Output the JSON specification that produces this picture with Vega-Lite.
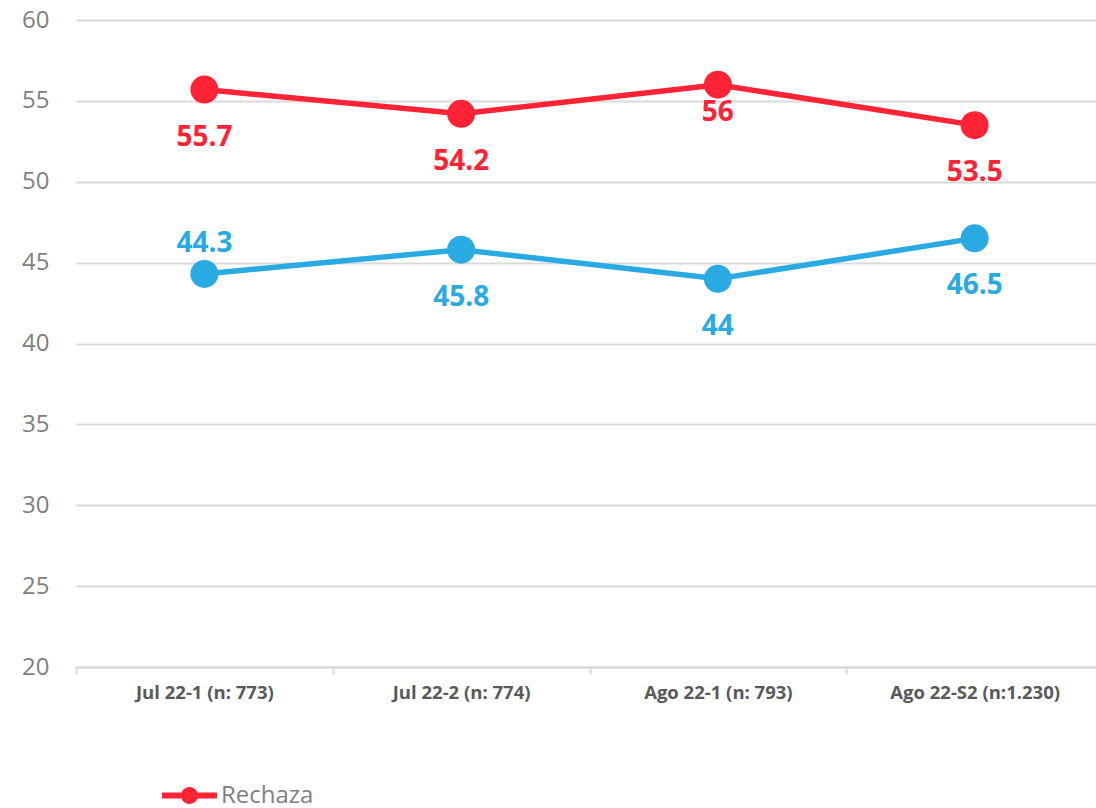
{
  "$schema": "https://vega.github.io/schema/vega-lite/v6.json",
  "width": 1027,
  "height": 647,
  "autosize": {"type": "none"},
  "padding": {"left": 76, "top": 20, "right": 0, "bottom": 141},
  "background": "white",
  "config": {
    "view": {"stroke": null},
    "font": "Open Sans"
  },
  "data": {
    "values": [
      {"Periodo": "Jul 22-1 (n: 773)", "Serie": "Rechaza", "Valor": 55.7},
      {"Periodo": "Jul 22-2 (n: 774)", "Serie": "Rechaza", "Valor": 54.2},
      {"Periodo": "Ago 22-1 (n: 793)", "Serie": "Rechaza", "Valor": 56},
      {"Periodo": "Ago 22-S2 (n:1.230)", "Serie": "Rechaza", "Valor": 53.5},
      {"Periodo": "Jul 22-1 (n: 773)", "Serie": "Apruebo", "Valor": 44.3},
      {"Periodo": "Jul 22-2 (n: 774)", "Serie": "Apruebo", "Valor": 45.8},
      {"Periodo": "Ago 22-1 (n: 793)", "Serie": "Apruebo", "Valor": 44},
      {"Periodo": "Ago 22-S2 (n:1.230)", "Serie": "Apruebo", "Valor": 46.5}
    ]
  },
  "encoding": {
    "x": {
      "field": "Periodo",
      "type": "nominal",
      "sort": null,
      "scale": {"type": "band", "paddingInner": 0, "paddingOuter": 0},
      "axis": {
        "title": null,
        "labelAngle": 0,
        "labelFont": "Open Sans",
        "labelFontSize": 18.5,
        "labelFontWeight": "bold",
        "labelColor": "#595959",
        "labelPadding": 9,
        "domainColor": "#d9d9d9",
        "domainWidth": 2,
        "tickColor": "#d9d9d9",
        "tickWidth": 2,
        "tickSize": 7,
        "tickBand": "extent",
        "grid": false
      }
    },
    "y": {
      "field": "Valor",
      "type": "quantitative",
      "scale": {"domain": [20, 60], "nice": false, "zero": false},
      "axis": {
        "title": null,
        "values": [20, 25, 30, 35, 40, 45, 50, 55, 60],
        "labelFont": "Open Sans",
        "labelFontSize": 24,
        "labelColor": "#7f7f7f",
        "labelPadding": 27,
        "domain": false,
        "ticks": false,
        "gridColor": "#d9d9d9",
        "gridWidth": 2
      }
    },
    "color": {
      "field": "Serie",
      "type": "nominal",
      "scale": {"domain": ["Rechaza", "Apruebo"], "range": ["#ff2336", "#2aaae2"]},
      "legend": {
        "title": null,
        "values": ["Rechaza"],
        "orient": "none",
        "legendX": 86,
        "legendY": 748,
        "symbolType": "M-1,-0.11H1V0.11H-1Z M-0.31,0A0.31,0.31 0 1,1 0.31,0A0.31,0.31 0 1,1 -0.31,0Z",
        "symbolSize": 3025,
        "symbolStrokeWidth": 0,
        "labelFont": "Open Sans",
        "labelFontSize": 24,
        "labelColor": "#7f7f7f",
        "labelOffset": 4,
        "encode": {
          "symbols": {"update": {"fill": {"signal": "scale('color', datum.value)"}, "strokeWidth": {"value": 0}, "opacity": {"value": 1}}}
        }
      }
    }
  },
  "layer": [
    {"mark": {"type": "line", "strokeWidth": 5.5}},
    {"mark": {"type": "point", "filled": true, "size": 784, "opacity": 1}},
    {
      "transform": [{"filter": "!(datum.Serie == 'Rechaza' && datum.Valor == 56) && !(datum.Serie == 'Apruebo' && datum.Valor == 44.3)"}],
      "mark": {"type": "text", "dy": 48, "fontSize": 28, "fontWeight": "bold", "font": "Open Sans", "baseline": "middle"},
      "encoding": {"text": {"field": "Valor", "type": "quantitative"}}
    },
    {
      "transform": [{"filter": "datum.Serie == 'Rechaza' && datum.Valor == 56"}],
      "mark": {"type": "text", "dy": 28, "fontSize": 28, "fontWeight": "bold", "font": "Open Sans", "baseline": "middle"},
      "encoding": {"text": {"field": "Valor", "type": "quantitative"}}
    },
    {
      "transform": [{"filter": "datum.Serie == 'Apruebo' && datum.Valor == 44.3"}],
      "mark": {"type": "text", "dy": -30, "fontSize": 28, "fontWeight": "bold", "font": "Open Sans", "baseline": "middle"},
      "encoding": {"text": {"field": "Valor", "type": "quantitative"}}
    }
  ]
}
